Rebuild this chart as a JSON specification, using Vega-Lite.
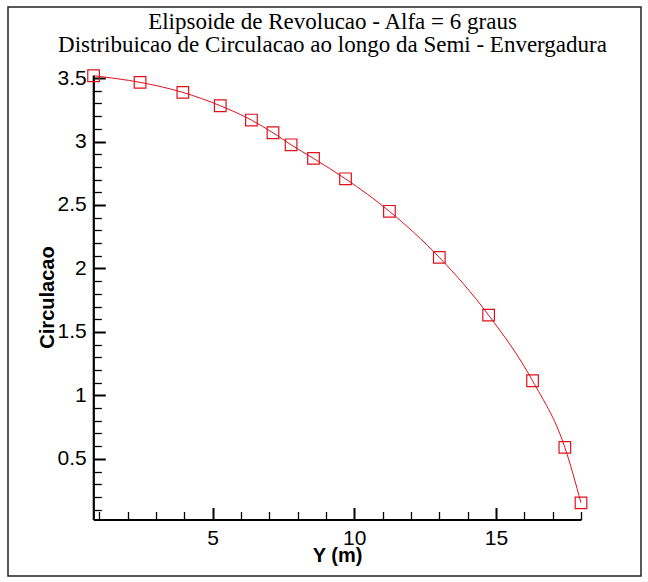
{
  "$schema": "https://vega.github.io/schema/vega-lite/v6.json",
  "autosize": "none",
  "padding": {"left": 8, "top": 7, "right": 7, "bottom": 6},
  "width": 633,
  "height": 569,
  "background": "white",
  "config": {
    "view": {"stroke": "#222222", "strokeWidth": 1.5},
    "axis": {
      "grid": false,
      "labelFont": "Liberation Sans",
      "labelFontSize": 21,
      "labelColor": "black",
      "titleFont": "Liberation Sans",
      "titleFontSize": 20,
      "titleFontWeight": "bold",
      "titleColor": "black",
      "domainColor": "black",
      "domainWidth": 2.2,
      "labelFlush": false,
      "labelOverlap": false,
      "ticks": true,
      "tickColor": "black",
      "tickOpacity": 1
    }
  },
  "title": {
    "text": ["Elipsoide de Revolucao - Alfa = 6 graus", "Distribuicao de Circulacao ao longo da Semi - Envergadura"],
    "font": "Liberation Serif",
    "fontSize": 23,
    "fontWeight": "normal",
    "color": "black",
    "anchor": "middle",
    "frame": "group",
    "offset": -50,
    "dx": 8,
    "lineHeight": 23
  },
  "data": {
    "values": [
      {"y_m": 0.80, "circ": 3.518},
      {"y_m": 2.44, "circ": 3.466},
      {"y_m": 3.95, "circ": 3.387},
      {"y_m": 5.27, "circ": 3.282},
      {"y_m": 6.37, "circ": 3.169},
      {"y_m": 7.13, "circ": 3.069},
      {"y_m": 7.77, "circ": 2.974},
      {"y_m": 8.56, "circ": 2.867},
      {"y_m": 9.69, "circ": 2.706},
      {"y_m": 11.24, "circ": 2.450},
      {"y_m": 13.00, "circ": 2.087},
      {"y_m": 14.74, "circ": 1.632},
      {"y_m": 16.29, "circ": 1.115},
      {"y_m": 17.43, "circ": 0.590},
      {"y_m": 18.00, "circ": 0.153}
    ]
  },
  "resolve": {"axis": {"x": "independent", "y": "independent"}},
  "layer": [
    {
      "mark": {"type": "line", "color": "#e0101a", "strokeWidth": 1, "interpolate": "monotone"},
      "encoding": {
        "x": {
          "field": "y_m",
          "type": "quantitative",
          "scale": {"domain": [0.79, 18.0], "range": [85.3, 573], "nice": false, "zero": false},
          "axis": {
            "orient": "top",
            "offset": -512.5,
            "values": [5, 10, 15],
            "format": "d",
            "tickSize": 12,
            "tickWidth": 2,
            "labelPadding": -20,
            "labelBaseline": "top",
            "title": "Y (m)",
            "titleBaseline": "middle",
            "titleY": 36
          }
        },
        "y": {
          "field": "circ",
          "type": "quantitative",
          "scale": {"domain": [0.022, 3.524], "range": [512.5, 68], "nice": false, "zero": false},
          "axis": {
            "orient": "right",
            "offset": -547.7,
            "values": [0.5, 1, 1.5, 2, 2.5, 3, 3.5],
            "format": "~g",
            "tickSize": 12,
            "tickWidth": 2,
            "labelPadding": -19,
            "labelAlign": "right",
            "title": "Circulacao",
            "titleAngle": 270,
            "titleBaseline": "middle",
            "titleAlign": "center",
            "titleX": -46,
            "titleY": 290
          }
        }
      }
    },
    {
      "mark": {"type": "point", "shape": "square", "size": 135, "filled": false, "color": "#e0101a", "strokeWidth": 1.2, "opacity": 1},
      "encoding": {
        "x": {
          "field": "y_m",
          "type": "quantitative",
          "axis": {
            "orient": "top",
            "offset": -512.5,
            "values": [1, 2, 3, 4, 6, 7, 8, 9, 11, 12, 13, 14, 16, 17, 18],
            "labels": false,
            "domain": false,
            "tickSize": 8,
            "tickWidth": 1.3,
            "title": null
          }
        },
        "y": {
          "field": "circ",
          "type": "quantitative",
          "axis": {
            "orient": "right",
            "offset": -547.7,
            "values": [0.1, 0.2, 0.3, 0.4, 0.6, 0.7, 0.8, 0.9, 1.1, 1.2, 1.3, 1.4, 1.6, 1.7, 1.8, 1.9, 2.1, 2.2, 2.3, 2.4, 2.6, 2.7, 2.8, 2.9, 3.1, 3.2, 3.3, 3.4],
            "labels": false,
            "domain": false,
            "tickSize": 8,
            "tickWidth": 1.3,
            "title": null
          }
        }
      }
    }
  ]
}
